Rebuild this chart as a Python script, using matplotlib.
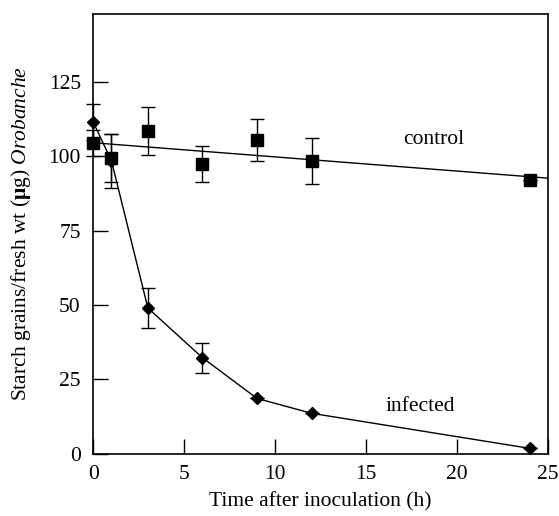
import numpy as np
import matplotlib
matplotlib.use("Agg")
import matplotlib.pyplot as plt

plt.rcParams['font.family'] = ['Liberation Serif', 'DejaVu Serif']
plt.rcParams['mathtext.fontset'] = 'custom'
plt.rcParams['mathtext.rm'] = 'Liberation Serif'
plt.rcParams['mathtext.it'] = 'Liberation Serif:italic'
plt.rcParams['mathtext.bf'] = 'Liberation Serif:bold'

# time after inoculation (h)
hours = [0, 1, 3, 6, 9, 12, 24]

# control
control = [104.5, 99.5, 108.5, 97.5, 105.5, 98.5, 92]
control_err = [4.5, 8, 8, 6, 7, 7.7, 0]

# infected
infected = [111.5, 98.5, 49, 32.3, 18.6, 13.6, 1.8]
infected_err = [6, 9, 6.7, 5, 0, 0, 0]

fig = plt.figure(figsize=(5.59, 5.16), dpi=100)
ax = fig.add_axes([0.1669, 0.1207, 0.9803 - 0.1669, 0.9734 - 0.1207])

# infected: connected points
ax.errorbar(hours, infected, yerr=infected_err, fmt='none', ecolor='black',
            elinewidth=1, capsize=5, capthick=1, zorder=2, clip_on=False)
ax.plot(hours, infected, '-', color='black', lw=1, marker='D', ms=6.5,
        zorder=3, clip_on=False)

# control: linear fit
ax.errorbar(hours, control, yerr=control_err, fmt='none', ecolor='black',
            elinewidth=1, capsize=5, capthick=1, zorder=2, clip_on=False)
slope, icpt = np.polyfit(hours, control, 1)
xfit = np.array([0, 25])
ax.plot(xfit, icpt + slope * xfit, '-', color='black', lw=1, zorder=2)
ax.plot(hours, control, 's', color='black', ms=8.5, zorder=4, clip_on=False)

ax.text(18.7, 105.7, 'control', fontsize=15.5, ha='center', va='center')
ax.text(18.0, 15.9, 'infected', fontsize=15.5, ha='center', va='center')

ax.set_xlim(0, 25)
ax.set_ylim(0, 148)
ax.set_xticks([0, 5, 10, 15, 20, 25])
ax.set_yticks([0, 25, 50, 75, 100, 125])
ax.tick_params(direction='in', length=11, width=1, labelsize=15.5,
               top=False, right=False)
ax.tick_params(axis='x', pad=8)
ax.tick_params(axis='y', pad=9)
for s in ax.spines.values():
    s.set_linewidth(1.2)

ax.set_xlabel('Time after inoculation (h)', fontsize=15.5, labelpad=6)
ax.set_ylabel(r'Starch grains/fresh wt ($\mathbf{\mu}$g) $\mathit{Orobanche}$',
              fontsize=15.5, labelpad=11)

fig.savefig('out.png', dpi=100)
